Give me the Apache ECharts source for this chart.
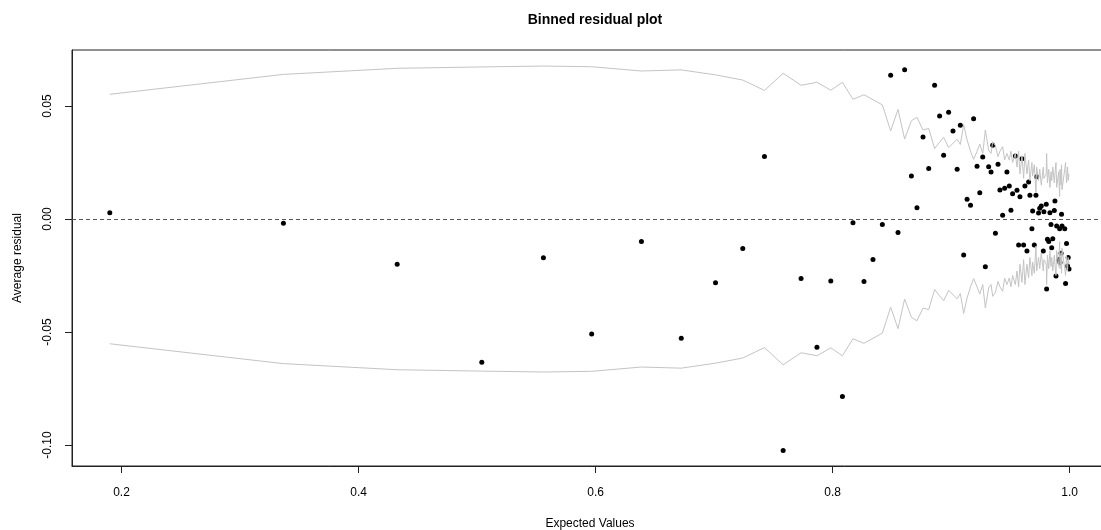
<!DOCTYPE html>
<html>
<head>
<meta charset="utf-8">
<title>Binned residual plot</title>
<script src="https://cdn.jsdelivr.net/npm/echarts@6/dist/echarts.min.js"></script>
<style>
  html, body { margin: 0; padding: 0; background: #fff; }
  #chart { width: 1101px; height: 530px; }
</style>
</head>
<body>
<div id="chart"></div>
<script>
// bin means of the fitted values (x) and the average residual in each bin (y)
var binX = [
  0.1901, 0.3366, 0.4326, 0.5040, 0.5560, 0.5967, 0.6387, 0.6723, 0.7012, 0.7242,
  0.7425, 0.7583, 0.7734, 0.7868, 0.7985, 0.8083, 0.8172, 0.8265, 0.8341, 0.8420,
  0.8490, 0.8552, 0.8608, 0.8665, 0.8712, 0.8763, 0.8811, 0.8861, 0.8903, 0.8937,
  0.8979, 0.9016, 0.9051, 0.9078, 0.9106, 0.9135, 0.9164, 0.9190, 0.9219, 0.9242,
  0.9267, 0.9289, 0.9317, 0.9337, 0.9351, 0.9374, 0.9396, 0.9412, 0.9435, 0.9452,
  0.9471, 0.9491, 0.9505, 0.9519, 0.9542, 0.9556, 0.9570, 0.9581, 0.9598, 0.9612,
  0.9623, 0.9640, 0.9654, 0.9665, 0.9682, 0.9688, 0.9702, 0.9716, 0.9722, 0.9738,
  0.9748, 0.9761, 0.9778, 0.9783, 0.9803, 0.9806, 0.9813, 0.9824, 0.9834, 0.9843,
  0.9849, 0.9858, 0.9871, 0.9876, 0.9885, 0.9891, 0.9908, 0.9916, 0.9919, 0.9928,
  0.9932, 0.9936, 0.9959, 0.9966, 0.9974, 0.9983, 0.9988, 0.9995
];
var avgResid = [
  0.0028, -0.0019, -0.0200, -0.0634, -0.0171, -0.0509, -0.0100, -0.0528, -0.0282, -0.0131,
  0.0277, -0.1024, -0.0263, -0.0568, -0.0274, -0.0785, -0.0016, -0.0277, -0.0179, -0.0024,
  0.0636, -0.0060, 0.0661, 0.0190, 0.0050, 0.0363, 0.0224, 0.0592, 0.0456, 0.0282,
  0.0473, 0.0389, 0.0220, 0.0415, -0.0159, 0.0087, 0.0061, 0.0444, 0.0233, 0.0116,
  0.0274, -0.0211, 0.0231, 0.0208, 0.0326, -0.0063, 0.0242, 0.0128, 0.0017, 0.0136,
  0.0208, 0.0146, 0.0039, 0.0112, 0.0279, 0.0127, -0.0115, 0.0099, 0.0267, -0.0115,
  0.0146, -0.0142, 0.0164, 0.0105, -0.0043, 0.0035, -0.0115, 0.0105, 0.0187, 0.0027,
  0.0048, 0.0058, -0.0142, 0.0032, 0.0065, -0.0310, -0.0090, -0.0100, 0.0028, -0.0024,
  -0.0127, -0.0087, 0.0038, 0.0080, -0.0252, -0.0031, -0.0179, -0.0043, -0.0192, -0.0152,
  0.0021, -0.0031, -0.0043, -0.0285, -0.0108, -0.0208, -0.0170, -0.0221
];
// 2 * standard error of each bin (upper band; the lower band is its mirror)
var twoSE = [
  0.0552, 0.0640, 0.0667, 0.0673, 0.0677, 0.0674, 0.0655, 0.0660, 0.0638, 0.0615,
  0.0569, 0.0645, 0.0592, 0.0605, 0.0570, 0.0605, 0.0530, 0.0550, 0.0528, 0.0505,
  0.0390, 0.0485, 0.0354, 0.0435, 0.0450, 0.0394, 0.0401, 0.0312, 0.0340, 0.0362,
  0.0316, 0.0335, 0.0353, 0.0330, 0.0418, 0.0350, 0.0300, 0.0264, 0.0300, 0.0332,
  0.0290, 0.0394, 0.0305, 0.0290, 0.0342, 0.0325, 0.0276, 0.0300, 0.0320, 0.0262,
  0.0290, 0.0261, 0.0300, 0.0250, 0.0290, 0.0230, 0.0300, 0.0200, 0.0280, 0.0180,
  0.0290, 0.0200, 0.0260, 0.0170, 0.0250, 0.0190, 0.0240, 0.0120, 0.0230, 0.0170,
  0.0220, 0.0150, 0.0230, 0.0180, 0.0200, 0.0290, 0.0160, 0.0220, 0.0140, 0.0210,
  0.0170, 0.0230, 0.0160, 0.0200, 0.0250, 0.0140, 0.0210, 0.0100, 0.0220, 0.0150,
  0.0240, 0.0130, 0.0220, 0.0250, 0.0160, 0.0230, 0.0170, 0.0200
];
var xTicks = [0.2, 0.4, 0.6, 0.8, 1.0];
var yTicks = [-0.10, -0.05, 0.00, 0.05];

var points = binX.map(function (x, i) { return [x, avgResid[i]]; });
var upper = binX.map(function (x, i) { return [x, twoSE[i]]; });
var lower = binX.map(function (x, i) { return [x, -twoSE[i]]; });

var font = 'Liberation Sans, Arial, sans-serif';

var option = {
  animation: false,
  backgroundColor: '#fff',
  title: {
    text: 'Binned residual plot',
    left: 590,
    top: 8,
    textAlign: 'center',
    textStyle: { fontFamily: font, fontSize: 14, fontWeight: 'bold', color: '#000' }
  },
  grid: {
    left: 72, top: 50, right: -7, bottom: 64,
    outerBoundsMode: 'none',
    containLabel: false,
    show: true, borderColor: '#222', borderWidth: 1
  },
  xAxis: {
    type: 'value',
    min: 0.1582, max: 1.0324,
    name: 'Expected Values',
    nameLocation: 'middle',
    nameGap: 52,
    nameTextStyle: { fontFamily: font, fontSize: 12, color: '#000' },
    splitLine: { show: false },
    axisLine: { show: true, onZero: false, lineStyle: { color: '#222' } },
    axisTick: { show: true, inside: false, length: 7, customValues: xTicks, lineStyle: { color: '#222' } },
    axisLabel: {
      customValues: xTicks, margin: 21,
      fontFamily: font, fontSize: 12, color: '#000',
      formatter: function (v) { return v.toFixed(1); }
    }
  },
  yAxis: {
    type: 'value',
    min: -0.1093, max: 0.0748,
    name: 'Average residual',
    nameLocation: 'middle',
    nameGap: 48,
    nameTextStyle: { fontFamily: font, fontSize: 12, color: '#000' },
    splitLine: { show: false },
    axisLine: { show: true, onZero: false, lineStyle: { color: '#222' } },
    axisTick: { show: true, inside: false, length: 7, customValues: yTicks, lineStyle: { color: '#222' } },
    axisLabel: {
      customValues: yTicks, margin: 18, rotate: 90,
      fontFamily: font, fontSize: 12, color: '#000',
      formatter: function (v) { return v.toFixed(2); }
    }
  },
  series: [
    {
      name: 'upper', type: 'line', data: upper, showSymbol: false, silent: true,
      lineStyle: { color: '#c4c4c4', width: 1 },
      markLine: {
        silent: true, symbol: 'none', label: { show: false },
        lineStyle: { color: '#555', type: [4, 3], width: 1 },
        data: [{ yAxis: 0 }]
      }
    },
    {
      name: 'lower', type: 'line', data: lower, showSymbol: false, silent: true,
      lineStyle: { color: '#c4c4c4', width: 1 }
    },
    {
      name: 'resid', type: 'scatter', data: points, symbol: 'circle', symbolSize: 5,
      itemStyle: { color: '#000', opacity: 1 }
    }
  ]
};

var chart = echarts.init(document.getElementById('chart'));
chart.setOption(option);
</script>
</body>
</html>
